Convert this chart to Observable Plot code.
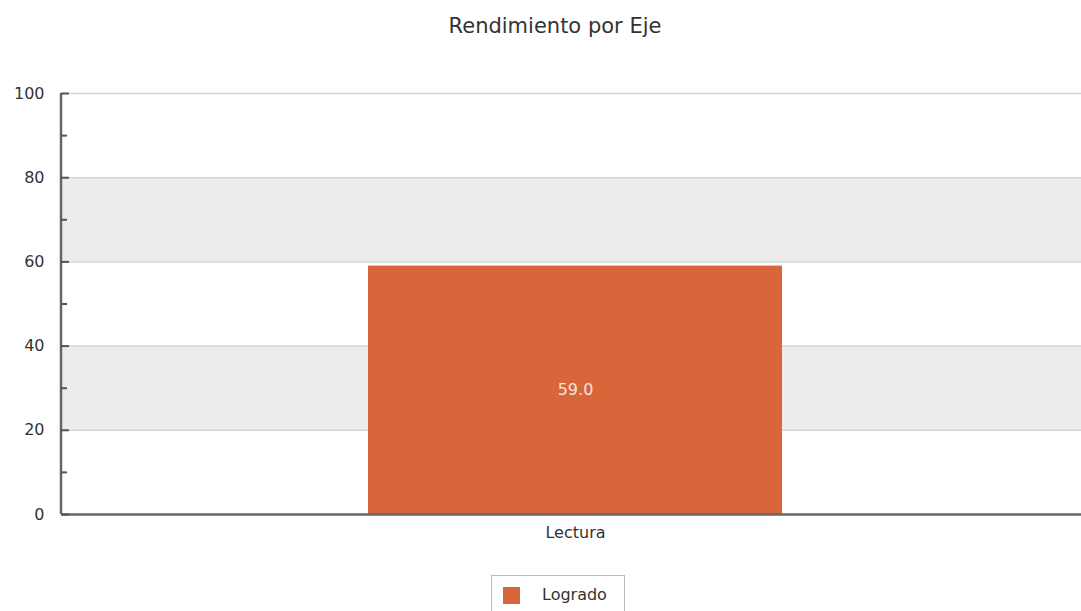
<!DOCTYPE html>
<html>
<head>
<meta charset="utf-8">
<script src="https://cdn.jsdelivr.net/npm/d3@7"></script>
<script src="https://cdn.jsdelivr.net/npm/@observablehq/plot@0.6"></script>
<style>
  body { margin: 0; background: #fff; font-family: "DejaVu Sans", sans-serif; }
  #wrap { position: relative; width: 1081px; height: 611px; overflow: hidden; }
  #title { height: 60px; box-sizing: border-box; padding-top: 14px; padding-left: 29px; text-align: center; font-size: 21px; line-height: 24px; color: #333; }
  #chart svg { display: block; }
  #legend { position: absolute; left: 491px; top: 575px; width: 134px; height: 60px; border: 1px solid #bbb; background: #fff; box-sizing: border-box; }
  #legend .sw { position: absolute; left: 11px; top: 11px; width: 17px; height: 17px; }
  #legend .lb { position: absolute; left: 50px; top: 9px; font-size: 16px; line-height: 20px; color: #333; }
</style>
</head>
<body>
<div id="wrap">
  <div id="title"></div>
  <div id="chart"></div>
  <div id="legend"><div class="sw"></div><div class="lb"></div></div>
</div>
<script>
const titleText = "Rendimiento por Eje";
const categories = ["Lectura"];
const values = [59.0];
const seriesName = "Logrado";
const yTicks = [0, 20, 40, 60, 80, 100];
const yMinorTicks = [10, 30, 50, 70, 90];

const barColor = "#d9653a";
const data = categories.map((c, i) => ({cat: c, value: values[i]}));
const bands = d3.pairs(yTicks).filter((_, i) => i % 2 === 1);

const W = 1081, H = 500, mL = 61, mR = 0, mT = 33, mB = 46;
const plotW = W - mL - mR;

document.getElementById("title").textContent = titleText;
document.querySelector("#legend .sw").style.background = barColor;
document.querySelector("#legend .lb").textContent = seriesName;

const chart = Plot.plot({
  width: W, height: H,
  marginLeft: mL, marginRight: mR, marginTop: mT, marginBottom: mB,
  style: {fontFamily: "DejaVu Sans, sans-serif", fontSize: "16px", color: "#333", background: "#fff"},
  x: {type: "band", domain: categories, padding: 0.4225, align: 0.507},
  y: {domain: [0, 100]},
  marks: [
    Plot.barY(bands, {y1: d => d[0], y2: d => d[1], fill: "#ececec"}),
    Plot.ruleY(yTicks.filter(t => t > 0), {stroke: "#d6d6d6", strokeWidth: 1.5}),
    Plot.barY(data, {x: "cat", y: "value", fill: barColor}),
    Plot.text(data, {x: "cat", y: d => d.value / 2, text: d => d.value.toFixed(1), fill: "#f8e4d8", fontSize: 16}),
    Plot.ruleY([0], {stroke: "#666", strokeWidth: 2.5}),
    Plot.barY([[yTicks[0], yTicks[yTicks.length - 1]]], {y1: d => d[0], y2: d => d[1], fill: "#666", insetLeft: -1.25, insetRight: plotW - 1.25}),
    Plot.tickY(yTicks, {y: d => d, stroke: "#555", strokeWidth: 2, insetRight: plotW - 8}),
    Plot.tickY(yMinorTicks, {y: d => d, stroke: "#555", strokeWidth: 2, insetRight: plotW - 6}),
    Plot.axisY(yTicks, {tickSize: 0, tickPadding: 17, fontSize: 16, label: null, fill: "#333"}),
    Plot.axisX({tickSize: 0, tickPadding: 12, fontSize: 16, label: null, fill: "#333"})
  ]
});
document.getElementById("chart").appendChild(chart);
</script>
</body>
</html>
